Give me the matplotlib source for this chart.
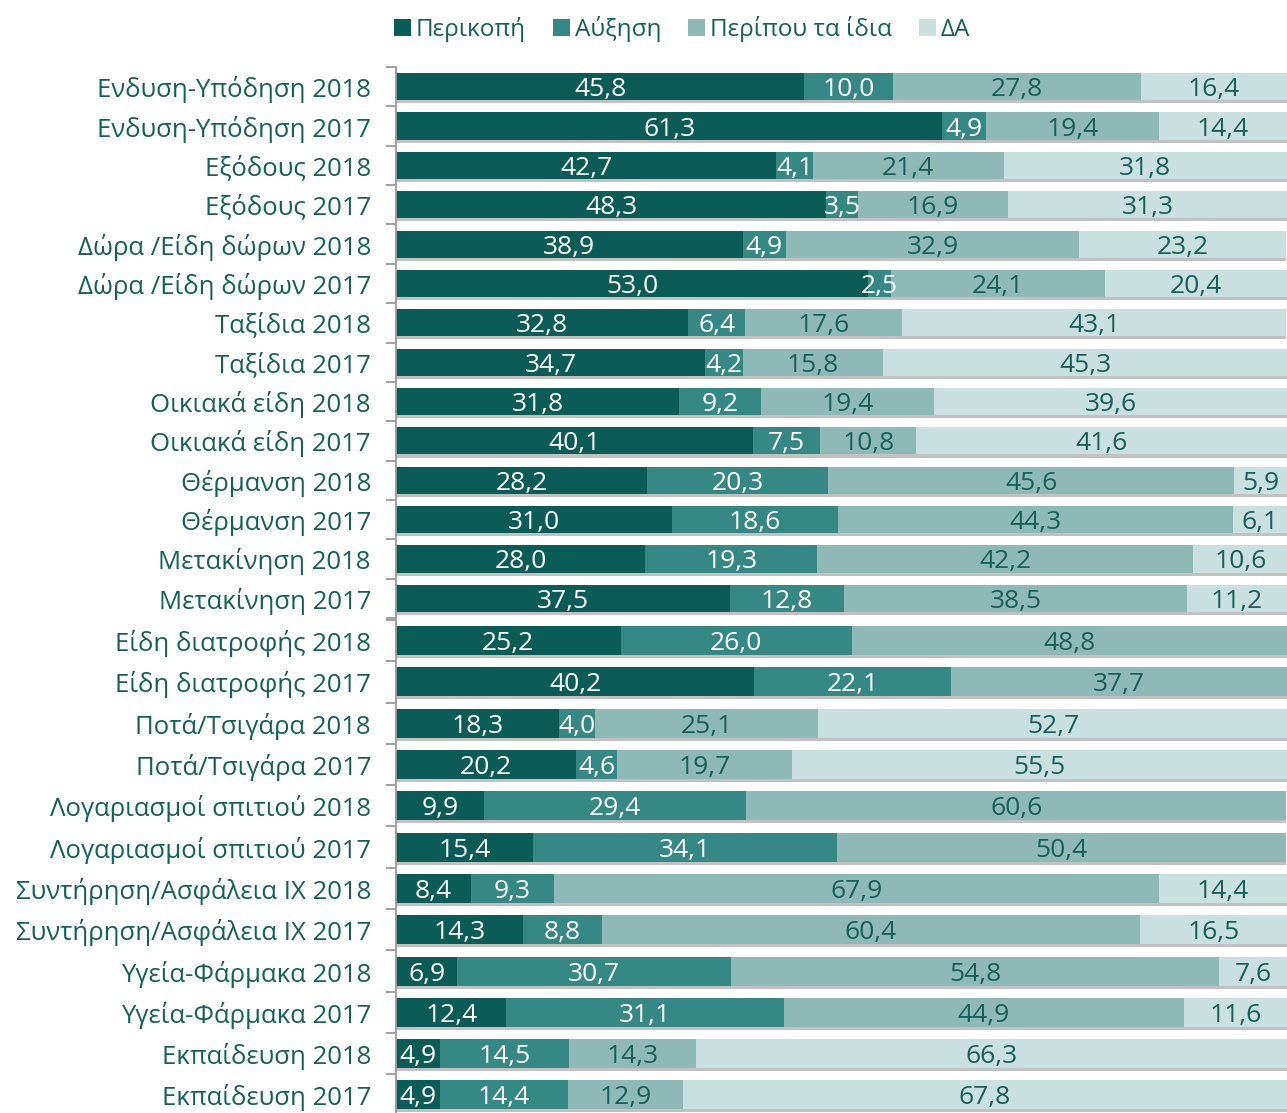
import matplotlib
matplotlib.use("Agg")
import matplotlib.pyplot as plt
import matplotlib.patheffects as pe
from matplotlib.patches import Patch
import numpy as np

plt.rcParams['font.family'] = ['Open Sans', 'DejaVu Sans']

series_names = ["Περικοπή", "Αύξηση", "Περίπου τα ίδια", "ΔΑ"]
colors = ["#0b5c56", "#368885", "#8fb9b7", "#cadfe0"]
label_colors = ["white", "white", "#17605a", "#17605a"]
text_color = "#17605a"

# top block
cats_top = ["Ενδυση-Υπόδηση 2018", "Ενδυση-Υπόδηση 2017", "Εξόδους 2018", "Εξόδους 2017",
            "Δώρα /Είδη δώρων 2018", "Δώρα /Είδη δώρων 2017", "Ταξίδια 2018", "Ταξίδια 2017",
            "Οικιακά είδη 2018", "Οικιακά είδη 2017", "Θέρμανση 2018", "Θέρμανση 2017",
            "Μετακίνηση 2018", "Μετακίνηση 2017"]
cut_top = [45.8, 61.3, 42.7, 48.3, 38.9, 53.0, 32.8, 34.7, 31.8, 40.1, 28.2, 31.0, 28.0, 37.5]
inc_top = [10.0, 4.9, 4.1, 3.5, 4.9, 2.5, 6.4, 4.2, 9.2, 7.5, 20.3, 18.6, 19.3, 12.8]
same_top = [27.8, 19.4, 21.4, 16.9, 32.9, 24.1, 17.6, 15.8, 19.4, 10.8, 45.6, 44.3, 42.2, 38.5]
na_top = [16.4, 14.4, 31.8, 31.3, 23.2, 20.4, 43.1, 45.3, 39.6, 41.6, 5.9, 6.1, 10.6, 11.2]

# bottom block
cats_bot = ["Είδη διατροφής 2018", "Είδη διατροφής 2017", "Ποτά/Τσιγάρα 2018", "Ποτά/Τσιγάρα 2017",
            "Λογαριασμοί σπιτιού 2018", "Λογαριασμοί σπιτιού 2017",
            "Συντήρηση/Ασφάλεια ΙΧ 2018", "Συντήρηση/Ασφάλεια ΙΧ 2017",
            "Υγεία-Φάρμακα 2018", "Υγεία-Φάρμακα 2017", "Εκπαίδευση 2018", "Εκπαίδευση 2017"]
cut_bot = [25.2, 40.2, 18.3, 20.2, 9.9, 15.4, 8.4, 14.3, 6.9, 12.4, 4.9, 4.9]
inc_bot = [26.0, 22.1, 4.0, 4.6, 29.4, 34.1, 9.3, 8.8, 30.7, 31.1, 14.5, 14.4]
same_bot = [48.8, 37.7, 25.1, 19.7, 60.6, 50.4, 67.9, 60.4, 54.8, 44.9, 14.3, 12.9]
na_bot = [0.0, 0.0, 52.7, 55.5, 0.0, 0.0, 14.4, 16.5, 7.6, 11.6, 66.3, 67.8]

W, H = 1287, 1113
fig = plt.figure(figsize=(W / 100, H / 100), dpi=100)

def fmt(v):
    return f"{v:.1f}".replace(".", ",")

def draw(ax, cats, data, bar_h):
    n = len(cats)
    y = np.arange(n)
    left = np.zeros(n)
    shadow = [pe.SimplePatchShadow(offset=(0, -2.2), shadow_rgbFace="#777777", alpha=0.45), pe.Normal()]
    for k, vals in enumerate(data):
        vals = np.array(vals)
        bars = ax.barh(y, vals, left=left, height=bar_h, color=colors[k], linewidth=0, zorder=2)
        for b in bars:
            b.set_path_effects(shadow)
        for i, v in enumerate(vals):
            if v > 0:
                ax.text(left[i] + v / 2, y[i], fmt(v), ha="center", va="center_baseline",
                        color=label_colors[k], fontsize=19, zorder=5)
        left = left + vals
    ax.set_xlim(0, 100)
    ax.set_ylim(n - 0.5, -0.5)
    ax.set_yticks(y)
    ax.set_yticklabels(cats, fontsize=18.5, color=text_color, va="center_baseline")
    ax.tick_params(axis="y", which="major", length=0, pad=18)
    ax.set_yticks(np.arange(n + 1) - 0.5, minor=True)
    ax.tick_params(axis="y", which="minor", length=7, width=1.3, color="#9a9a9a")
    ax.set_xticks([])
    for s in ["top", "right", "bottom"]:
        ax.spines[s].set_visible(False)
    ax.spines["left"].set_color("#9a9a9a")
    ax.spines["left"].set_linewidth(1.3)

x0 = 396 / W
w = (W - 396) / W
ax1 = fig.add_axes([x0, 1 - 618 / H, w, (618 - 67) / H])
draw(ax1, cats_top, [cut_top, inc_top, same_top, na_top], 0.69)
bot_top, bot_step = 620, 41.3
ax2 = fig.add_axes([x0, 1 - (bot_top + 12 * bot_step) / H, w, 12 * bot_step / H])
draw(ax2, cats_bot, [cut_bot, inc_bot, same_bot, na_bot], 0.70)

handles = [Patch(facecolor=c, edgecolor="none") for c in colors]
leg = fig.legend(handles, series_names, loc="center", bbox_to_anchor=(682 / W, 1 - 29 / H),
                 ncol=4, frameon=False, fontsize=17.5, handlelength=0.7, handleheight=0.7,
                 handletextpad=0.2, columnspacing=1.1)
for t in leg.get_texts():
    t.set_color(text_color)

fig.savefig("out.png", dpi=100)
